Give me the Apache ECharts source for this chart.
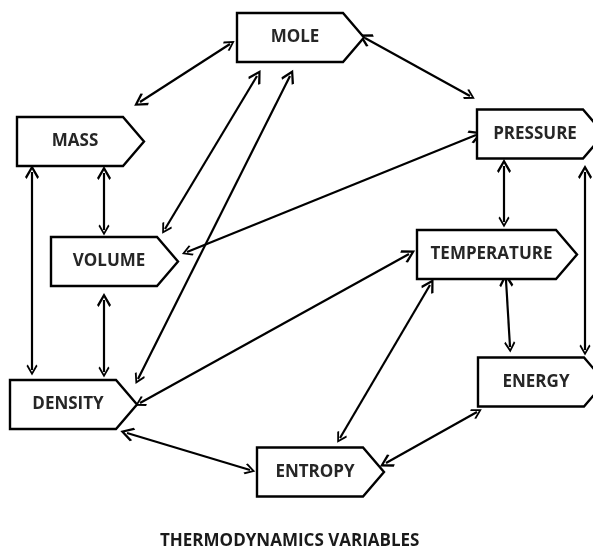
<!DOCTYPE html>
<html>
<head>
<meta charset="utf-8">
<style>html,body{margin:0;padding:0;background:#fff;}#c{width:593px;height:549px;}</style>
<script src="https://cdn.jsdelivr.net/npm/echarts@6/dist/echarts.min.js"></script>
</head>
<body>
<div id="c"></div>
<script>
// Variables (boxes) and their centre positions in diagram units
const variables = ['MOLE','MASS','VOLUME','DENSITY','ENTROPY','PRESSURE','TEMPERATURE','ENERGY'];
const varX = [300.5, 80.5, 114.5, 73.5, 320.5, 540.5, 497, 541.5];
const varY = [37.5, 141.5, 261.5, 404.5, 472, 134, 254.5, 382];

// Double-headed relations: start and end points in diagram units
const relFrom = ['MASS','MOLE','MOLE','MOLE','MASS','MASS','VOLUME','PRESSURE','TEMPERATURE','DENSITY','PRESSURE','PRESSURE','TEMPERATURE','TEMPERATURE','ENTROPY'];
const relTo   = ['MOLE','PRESSURE','VOLUME','DENSITY','VOLUME','DENSITY','DENSITY','VOLUME','DENSITY','ENTROPY','TEMPERATURE','ENERGY','ENERGY','ENTROPY','ENERGY'];
const relX1 = [140, 365, 257, 290, 104, 32, 104, 476, 409, 127, 504, 585, 506, 430, 386];
const relY1 = [102, 38, 76, 76, 173, 172, 300, 135, 254, 433, 166, 172, 280, 285, 463];
const relX2 = [230, 470, 165, 138, 104, 32, 104, 187, 140, 250, 504, 585, 510, 340, 477];
const relY2 = [44, 96, 229, 379, 230, 370, 372, 252, 403, 470, 222, 350, 347, 438, 412];

const titleText = 'THERMODYNAMICS VARIABLES';

// ---- styling helpers ----
const BOX_H = 49, TIP = 21;
function boxWidth(name) { return name === 'TEMPERATURE' ? 160 : 127; }
// Path laid out inside a square bounding box (w x w) so the symbol is scaled uniformly
function boxPath(w) {
  const r = w - TIP;
  const t = (w - BOX_H) / 2, b = t + BOX_H, m = t + BOX_H / 2;
  return 'path://M0,0 M' + w + ',' + w +
    ' M0,' + t + ' L' + r + ',' + t + ' L' + w + ',' + m + ' L' + r + ',' + b + ' L0,' + b + ' Z';
}
const headPath = 'path://M0,0 L6.5,8.5 L5,9.9 L0,3.1 L-5,9.9 L-6.5,8.5 Z';

const nodeData = variables.map((n, i) => {
  const w = boxWidth(n);
  return {
    name: n,
    value: [varX[i], varY[i]],
    symbol: boxPath(w),
    symbolSize: [w, w],
    label: { offset: [-(TIP / 2) + 5, 0] }
  };
});

const lineData = relFrom.map((f, i) => ({
  name: f + '-' + relTo[i],
  coords: [[relX1[i], relY1[i]], [relX2[i], relY2[i]]]
}));

const chart = echarts.init(document.getElementById('c'), null, { renderer: 'canvas' });
chart.setOption({
  backgroundColor: '#ffffff',
  animation: false,
  title: {
    text: titleText,
    left: 160, top: 533,
    textStyle: { fontFamily: 'Open Sans', fontWeight: 'bold', fontSize: 17, color: '#1a1a1a' },
    padding: 0
  },
  grid: { left: 0, right: 0, top: 0, bottom: 0, containLabel: false },
  xAxis: { type: 'value', min: 0, max: 593, show: false },
  yAxis: { type: 'value', min: 0, max: 549, inverse: true, show: false },
  series: [
    {
      type: 'lines',
      coordinateSystem: 'cartesian2d',
      polyline: false,
      symbol: [headPath, headPath],
      symbolSize: [14, 11],
      symbolOffset: [0, '50%'],
      lineStyle: { color: '#000', width: 2.2, opacity: 1, curveness: 0 },
      data: lineData,
      z: 2
    },
    {
      type: 'scatter',
      clip: false,
      data: nodeData,
      itemStyle: { color: '#ffffff', borderColor: '#000', borderWidth: 2.4, opacity: 1, borderJoin: 'miter' },
      label: {
        show: true, position: 'inside',
        formatter: p => p.name,
        fontFamily: 'Open Sans', fontWeight: 'bold', fontSize: 17, color: '#262626'
      },
      emphasis: { disabled: true },
      z: 3
    }
  ]
});
</script>
</body>
</html>
